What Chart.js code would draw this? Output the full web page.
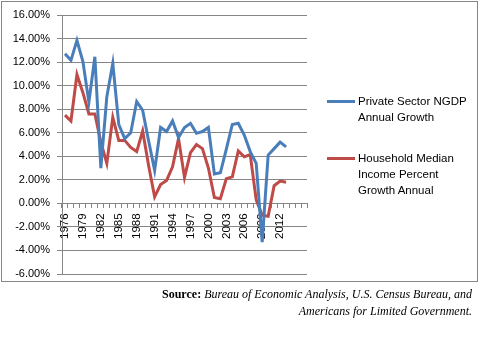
<!DOCTYPE html>
<html>
<head>
<meta charset="utf-8">
<script src="https://cdn.jsdelivr.net/npm/chart.js@4.4.1/dist/chart.umd.min.js"></script>
<style>
  body { margin: 0; background: #fff; }
  #wrap { position: relative; width: 483px; height: 338px; overflow: hidden; }
  #frame { position: absolute; left: 1px; top: 1px; width: 475px; height: 279px; border: 1px solid #868686; }
  #c { position: absolute; left: 0; top: 0; }
  #legend { position: absolute; left: 327px; top: 0; font: 11.5px "Liberation Sans", Arial, sans-serif; color: #000; }
  .item { position: absolute; left: 0; width: 150px; }
  .swatch { position: absolute; left: 0; top: 7px; width: 28px; height: 3px; }
  .txt { position: absolute; left: 31px; top: 0; width: 112px; line-height: 16px; }
  #source { position: absolute; right: 11px; top: 286px; text-align: right; white-space: nowrap;
            font: 12px "Liberation Serif", "Times New Roman", serif; line-height: 17px; color: #000; }
</style>
</head>
<body>
<div id="wrap">
  <div id="frame"></div>
  <canvas id="c" width="483" height="290"></canvas>
  <div id="legend"></div>
  <div id="source"><b>Source:</b> <i>Bureau of Economic Analysis, U.S. Census Bureau, and</i><br><i>Americans for Limited Government.</i></div>
</div>
<script>
// categories (last three are empty slots on the axis)
const years = ['1976', '1977', '1978', '1979', '1980', '1981', '1982', '1983', '1984', '1985',
               '1986', '1987', '1988', '1989', '1990', '1991', '1992', '1993', '1994', '1995',
               '1996', '1997', '1998', '1999', '2000', '2001', '2002', '2003', '2004', '2005',
               '2006', '2007', '2008', '2009', '2010', '2011', '2012', '2013', '', '', ''];

// private sector NGDP annual growth, %
const ngdpGrowth = [12.7, 12.15, 13.85, 12.05, 8.6, 12.45, 3.0, 9.05, 11.9, 6.7,
                    5.5, 6.0, 8.65, 7.9, 5.3, 2.8, 6.45, 6.1, 7.0, 5.6,
                    6.45, 6.8, 5.95, 6.1, 6.45, 2.5, 2.6, 4.6, 6.7, 6.8,
                    5.8, 4.4, 3.4, -3.3, 4.1, 4.65, 5.2, 4.8];

// household median income percent growth, %
const incomeGrowth = [7.5, 7.0, 10.95, 9.4, 7.6, 7.6, 5.2, 3.4, 7.3, 5.35,
                      5.35, 4.75, 4.4, 6.15, 3.2, 0.55, 1.6, 1.95, 3.1, 5.5,
                      2.2, 4.3, 5.0, 4.65, 3.0, 0.5, 0.4, 2.1, 2.25, 4.45,
                      3.95, 4.15, 0.3, -1.0, -1.1, 1.5, 1.9, 1.8];

const seriesNames = ['Private Sector NGDP Annual Growth', 'Household Median Income Percent Growth Annual'];
const seriesColors = ['#4A7EBB', '#BE4B48'];

const yMin = -6, yMax = 16, yStep = 2;

const axisFont = { family: '"Liberation Sans", Arial, sans-serif', size: 11 };
const gridColor = '#868686';

const chart = new Chart(document.getElementById('c'), {
    type: 'line',
    data: {
        labels: years,
        datasets: [ngdpGrowth, incomeGrowth].map((d, i) => ({
            label: seriesNames[i],
            data: d,
            borderColor: seriesColors[i],
            backgroundColor: seriesColors[i],
            borderWidth: 3,
            pointRadius: 0,
            tension: 0,
            fill: false
        }))
    },
    options: {
        responsive: false,
        animation: false,
        layout: { padding: { top: 15, right: 176, bottom: 16, left: 0 } },
        plugins: {
            legend: { display: false },
            tooltip: { enabled: false }
        },
        scales: {
            x: {
                type: 'category',
                offset: true,
                position: { y: 0 },
                grid: { offset: true, drawOnChartArea: false, tickLength: 4, color: gridColor },
                border: { color: gridColor },
                ticks: {
                    autoSkip: false,
                    minRotation: 90,
                    maxRotation: 90,
                    padding: 6,
                    color: '#000',
                    font: { family: axisFont.family, size: 11.5 },
                    callback: (v, i) => (i % 3 === 0 ? years[i] : '')
                }
            },
            y: {
                min: yMin,
                max: yMax,
                afterFit: s => { s.width = 62; },
                grid: { color: gridColor, tickLength: 5 },
                border: { color: gridColor },
                ticks: {
                    stepSize: yStep,
                    padding: 7,
                    color: '#000',
                    font: axisFont,
                    callback: v => v.toFixed(2) + '%'
                }
            }
        }
    }
});

// legend on the right, wrapped like the original
const legendTops = [93, 150];
const legend = document.getElementById('legend');
chart.data.datasets.forEach((ds, i) => {
    const item = document.createElement('div');
    item.className = 'item';
    item.style.top = legendTops[i] + 'px';
    item.innerHTML = '<div class="swatch" style="background:' + ds.borderColor + '"></div>' +
                     '<div class="txt">' + ds.label + '</div>';
    legend.appendChild(item);
});
</script>
</body>
</html>
